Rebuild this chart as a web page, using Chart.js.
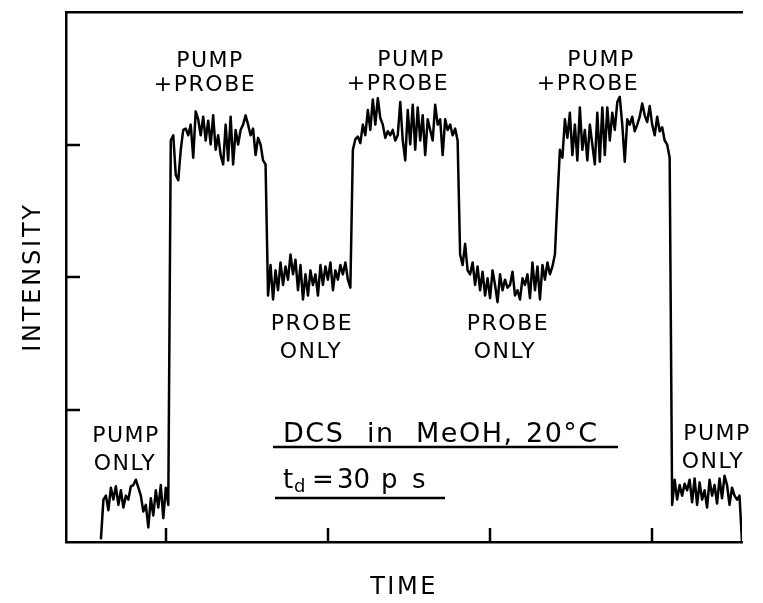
<!DOCTYPE html>
<html>
<head>
<meta charset="utf-8">
<script src="https://cdn.jsdelivr.net/npm/chart.js@4.4.1/dist/chart.umd.min.js"></script>
<style>
  html, body { margin: 0; padding: 0; background: #fff; }
  #wrap { width: 763px; height: 603px; }
</style>
</head>
<body>
<div id="wrap"><canvas id="trace" width="763" height="603"></canvas></div>
<script>
/* Pump/probe intensity trace - DCS in MeOH */

// time axis: one sample per step, first sample at step 14
const sampleStart = 14;
const timeTicks = [40, 105, 170, 235];
const intensityTicks = [1, 2, 3];

// intensity, segment by segment
const pumpOnlyA = [0.02, 0.32, 0.35, 0.24, 0.41, 0.32, 0.42, 0.28, 0.39, 0.26, 0.35, 0.32, 0.42, 0.43,
  0.47, 0.41, 0.35, 0.23, 0.28, 0.11, 0.33, 0.20, 0.39, 0.26, 0.43, 0.18, 0.41, 0.28];
const pumpProbeA = [3.03, 3.07, 2.77, 2.73, 2.96, 3.11, 3.12, 3.07, 3.15, 2.90, 3.25, 3.19, 3.07, 3.21,
  3.03, 3.18, 3.00, 3.22, 2.96, 3.07, 2.92, 2.85, 3.15, 2.88, 3.21, 2.85, 3.11, 3.00, 3.11, 3.15,
  3.22, 3.15, 3.07, 3.12, 2.92, 3.05, 3.00, 2.88, 2.85];
const probeOnlyA = [1.86, 2.09, 1.83, 2.05, 1.90, 2.11, 1.94, 2.08, 1.98, 2.17, 2.02, 2.13, 1.90, 2.09,
  1.83, 2.02, 1.86, 2.05, 1.94, 2.02, 1.86, 2.09, 1.94, 2.08, 1.98, 2.11, 1.90, 2.05, 1.98, 2.09,
  2.02, 2.11, 1.98, 1.92];
const pumpProbeB = [2.96, 3.04, 3.06, 3.01, 3.15, 3.07, 3.26, 3.11, 3.34, 3.15, 3.35, 3.20, 3.15, 3.05,
  3.10, 3.07, 3.11, 3.03, 3.07, 3.32, 3.03, 2.88, 3.26, 3.00, 3.30, 2.96, 3.28, 3.03, 3.22, 2.92,
  3.19, 3.11, 3.03, 3.30, 3.15, 3.19, 2.92, 3.19, 3.11, 3.15, 3.07, 3.12, 3.03];
const probeOnlyB = [2.17, 2.09, 2.25, 2.05, 2.02, 2.11, 1.94, 2.08, 1.90, 2.04, 1.86, 1.99, 1.84, 2.05,
  1.94, 1.81, 2.02, 1.90, 1.98, 1.92, 1.94, 2.04, 1.86, 1.90, 1.83, 1.99, 1.94, 2.02, 1.84, 2.11,
  1.90, 2.08, 1.83, 2.09, 1.98, 2.11, 2.02, 2.08, 2.17];
const pumpProbeC = [2.58, 2.96, 2.90, 3.19, 3.05, 3.24, 2.92, 3.15, 2.88, 3.28, 2.96, 3.11, 2.88, 3.15,
  3.00, 2.85, 3.24, 2.87, 3.28, 2.92, 3.28, 3.03, 3.24, 3.11, 3.32, 3.36, 3.15, 2.87, 3.19, 3.15,
  3.21, 3.10, 3.15, 3.21, 3.31, 3.22, 3.17, 3.29, 3.15, 3.07, 3.21, 3.10, 3.13, 3.03, 3.00, 2.90];
const pumpOnlyB = [0.28, 0.47, 0.32, 0.43, 0.35, 0.44, 0.39, 0.47, 0.30, 0.48, 0.28, 0.45, 0.32, 0.39,
  0.26, 0.47, 0.35, 0.43, 0.29, 0.48, 0.33, 0.50, 0.43, 0.28, 0.41, 0.35, 0.32, 0.35, 0.00];

const intensity = [].concat(pumpOnlyA, pumpProbeA, probeOnlyA, pumpProbeB, probeOnlyB, pumpProbeC, pumpOnlyB);
const tracePoints = intensity.map((v, i) => ({ x: sampleStart + i, y: v }));

// text on the plot (pixel positions, alphabetic baseline)
const labelFont = '22px "DejaVu Sans"';
const stateLabels = [
  ['PUMP', 210, 67], ['+PROBE', 205, 91],
  ['PUMP', 411, 66], ['+PROBE', 398, 90],
  ['PUMP', 601, 66], ['+PROBE', 588, 90],
  ['PROBE', 312, 330], ['ONLY', 311, 358],
  ['PROBE', 508, 330], ['ONLY', 505, 358],
  ['PUMP', 126, 442], ['ONLY', 125, 470],
  ['PUMP', 717, 440], ['ONLY', 713, 468],
];

const noteWords = [
  ['DCS', 283, 442], ['in', 367, 442], ['MeOH,', 416, 442], ['20°C', 526, 442],
];
const delayWords = [['t', 283, 488], ['=', 312, 488], ['30', 337, 488], ['p', 381, 488], ['s', 412, 488]];

const plotText = {
  id: 'plotText',
  afterDatasetsDraw(chart) {
    const { ctx, chartArea: a, scales: { x, y } } = chart;
    ctx.save();
    ctx.strokeStyle = '#000';
    ctx.fillStyle = '#000';
    ctx.lineWidth = 2.5;

    // inward tick marks
    y.ticks.forEach(t => {
      const py = Math.round(y.getPixelForValue(t.value));
      ctx.beginPath(); ctx.moveTo(a.left, py); ctx.lineTo(a.left + 14, py); ctx.stroke();
    });
    x.ticks.forEach(t => {
      const px = Math.round(x.getPixelForValue(t.value));
      ctx.beginPath(); ctx.moveTo(px, a.bottom); ctx.lineTo(px, a.bottom - 14); ctx.stroke();
    });

    // state labels
    ctx.font = labelFont;
    ctx.letterSpacing = '1.5px';
    ctx.textAlign = 'center';
    ctx.textBaseline = 'alphabetic';
    stateLabels.forEach(([s, cx, by]) => ctx.fillText(s, cx, by));

    // sample note
    ctx.textAlign = 'left';
    ctx.font = '27px "DejaVu Sans"';
    ctx.letterSpacing = '1.5px';
    noteWords.forEach(([s, lx, by]) => ctx.fillText(s, lx, by));
    ctx.beginPath(); ctx.moveTo(273, 447); ctx.lineTo(618, 447); ctx.stroke();

    ctx.font = '26px "DejaVu Sans"';
    ctx.letterSpacing = '0px';
    delayWords.forEach(([s, lx, by]) => ctx.fillText(s, lx, by));
    ctx.font = '18px "DejaVu Sans"';
    ctx.fillText('d', 294, 492);
    ctx.beginPath(); ctx.moveTo(275, 498); ctx.lineTo(445, 498); ctx.stroke();

    // axis names
    ctx.font = '24px "DejaVu Sans"';
    ctx.letterSpacing = '2.5px';
    ctx.textAlign = 'center';
    ctx.fillText('TIME', 404, 594);
    ctx.translate(40, 277);
    ctx.rotate(-Math.PI / 2);
    ctx.letterSpacing = '2.8px';
    ctx.fillText('INTENSITY', 0, 0);
    ctx.restore();
  }
};

const axisBorder = { display: true, color: '#000', width: 2.5 };
const bare = { display: false, drawTicks: false };

new Chart(document.getElementById('trace'), {
  type: 'line',
  data: {
    datasets: [{
      data: tracePoints,
      borderColor: '#000',
      borderWidth: 2.5,
      pointRadius: 0,
      tension: 0,
      borderJoinStyle: 'round',
    }]
  },
  options: {
    responsive: false,
    animation: false,
    layout: { padding: { left: 66, top: 12, right: 21, bottom: 61 } },
    plugins: { legend: { display: false }, tooltip: { enabled: false } },
    scales: {
      x: {
        type: 'linear', min: 0, max: 271,
        ticks: { display: false }, grid: bare, border: axisBorder,
        afterBuildTicks: s => { s.ticks = timeTicks.map(v => ({ value: v })); },
      },
      xTop: {
        type: 'linear', position: 'top', min: 0, max: 271,
        ticks: { display: false }, grid: bare, border: axisBorder,
      },
      y: {
        min: 0, max: 4,
        ticks: { display: false }, grid: bare, border: axisBorder,
        afterBuildTicks: s => { s.ticks = intensityTicks.map(v => ({ value: v })); },
      },
    },
  },
  plugins: [plotText],
});
</script>
</body>
</html>
